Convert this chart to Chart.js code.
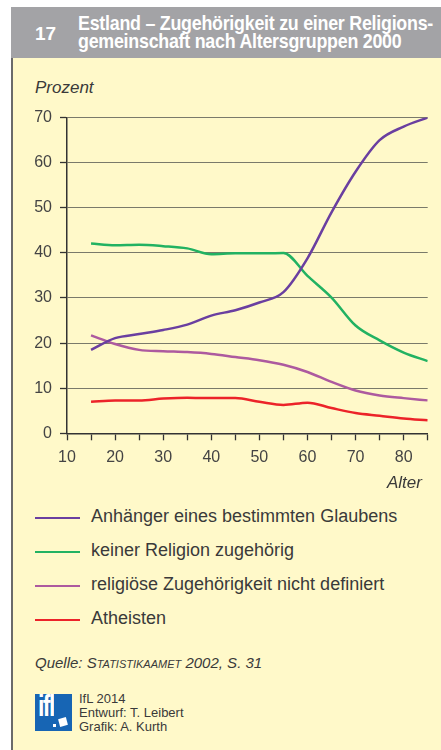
<!DOCTYPE html>
<html>
<head>
<meta charset="utf-8">
<script src="https://cdn.jsdelivr.net/npm/chart.js@4/dist/chart.umd.min.js"></script>
<style>
  body { margin: 0; width: 441px; height: 750px; background: #fff; position: relative; overflow: hidden;
         font-family: "Liberation Sans", Arial, sans-serif; color: #3a3a3a; }
  #head { position: absolute; left: 11px; top: 7px; width: 430px; height: 51px; background: #a3a3a6; }
  #num { position: absolute; left: 24px; top: 16px; color: #fff; font-weight: bold; font-size: 19px; }
  .tl { position: absolute; left: 67px; color: #fff; font-weight: bold; font-size: 21px; line-height: 21px;
        white-space: nowrap; transform-origin: 0 0; letter-spacing: -0.3px; }
  #panel { position: absolute; left: 11px; top: 58px; width: 430px; height: 692px; background: #fff9c9;
           border-left: 2px solid #6a6a6a; box-sizing: border-box; }
  #chartBox { position: absolute; left: 13px; top: 100px; }
  .axisTitle { position: absolute; font-style: italic; font-size: 17px; color: #3a3a3a; }
  #legend { position: absolute; left: 35px; top: 506px; }
  .row { position: relative; height: 34px; }
  .row .ln { position: absolute; left: 0; top: 11px; width: 45px; height: 2.2px; }
  .row .tx { position: absolute; left: 56px; top: 0px; font-size: 18px; white-space: nowrap; color: #3a3a3a; }
  #quelle { position: absolute; left: 35px; top: 654px; font-size: 15px; font-style: italic; color: #3a3a3a; }
  #quelle span { font-variant: small-caps; }
  #logo { position: absolute; left: 35px; top: 694px; width: 37px; height: 37px; background: #1765b4; overflow: hidden; }
  #logo .t { position: absolute; left: 3px; top: -4px; color: #fff; font-weight: bold; font-size: 29px;
             letter-spacing: -2px; transform: scaleX(0.8); transform-origin: 0 0; }
  #logo .sq { position: absolute; left: 24px; top: 24px; width: 8px; height: 8px; background: #fff; transform: rotate(-15deg); }
  #logo .dot { position: absolute; left: 18px; top: 30px; width: 3px; height: 3px; background: #fff; }
  #credits { position: absolute; left: 79px; top: 692px; font-size: 13px; line-height: 13.8px; color: #3a3a3a; }
</style>
</head>
<body>
<div id="head">
  <div id="num">17</div>
  <div class="tl" id="t1" style="top:5px;">Estland – Zugehörigkeit zu einer Religions-</div>
  <div class="tl" id="t2" style="top:23px;">gemeinschaft nach Altersgruppen 2000</div>
</div>
<div id="panel"></div>
<div class="axisTitle" style="left:35px; top:78px;">Prozent</div>
<div id="chartBox"><canvas id="myChart" width="428" height="400"></canvas></div>
<div class="axisTitle" style="left:387px; top:473px;">Alter</div>
<div id="legend"></div>
<div id="quelle">Quelle: <span>Statistikaamet</span> 2002, S. 31</div>
<div id="logo"><div class="t">ifl</div><div class="sq"></div><div class="dot"></div></div>
<div id="credits">IfL 2014<br>Entwurf: T. Leibert<br>Grafik: A. Kurth</div>

<script>
// data
const ages = [15, 20, 25, 30, 35, 40, 45, 50, 55, 60, 65, 70, 75, 80, 85];
const anhaenger = [18.5, 21.1, 22.0, 22.9, 24.1, 26.1, 27.3, 29.0, 31.3, 38.8, 49.0, 58.0, 65.0, 68.0, 70.0];
const keinerReligion = [42.1, 41.7, 41.8, 41.5, 41.0, 39.7, 39.9, 39.9, 40.0, 34.9, 30.1, 23.9, 20.6, 17.9, 16.0];
const nichtDefiniert = [21.7, 19.8, 18.5, 18.2, 18.0, 17.6, 16.9, 16.2, 15.2, 13.6, 11.4, 9.5, 8.4, 7.8, 7.3];
const atheisten = [7.0, 7.3, 7.3, 7.7, 7.9, 7.8, 7.8, 7.0, 6.3, 6.8, 5.6, 4.5, 3.9, 3.3, 2.9];

const seriesNames = ['Anhänger eines bestimmten Glaubens', 'keiner Religion zugehörig',
  'religiöse Zugehörigkeit nicht definiert', 'Atheisten'];
const seriesValues = [anhaenger, keinerReligion, nichtDefiniert, atheisten];
const seriesColors = ['#6a3fa0', '#22b262', '#ad5a9f', '#ec2329'];

// squeeze the title lines to the condensed width of the original
const t1 = document.getElementById('t1');
const t2 = document.getElementById('t2');
const k = 355 / t1.getBoundingClientRect().width;
t1.style.transform = 'scaleX(' + k + ')';
t2.style.transform = 'scaleX(' + k + ')';

Chart.defaults.font.family = '"Liberation Sans", Arial, sans-serif';
Chart.defaults.color = '#444';

const datasets = seriesNames.map((name, i) => ({
  label: name,
  data: ages.map((a, j) => ({ x: a, y: seriesValues[i][j] })),
  borderColor: seriesColors[i],
  borderWidth: 2.5,
  pointRadius: 0,
  fill: false,
  cubicInterpolationMode: 'monotone'
}));

const ctx = document.getElementById('myChart').getContext('2d');
const myChart = new Chart(ctx, {
  type: 'line',
  data: { datasets: datasets },
  options: {
    responsive: false,
    animation: false,
    devicePixelRatio: 1,
    layout: { padding: { top: 15.7, right: 13.3, left: 0, bottom: 0 } },
    plugins: { legend: { display: false }, tooltip: { enabled: false } },
    scales: {
      x: {
        type: 'linear', min: 10, max: 85,
        afterFit: (s) => { s.height = 66.7; },
        ticks: { stepSize: 5, autoSkip: false, maxRotation: 0, padding: 8, font: { size: 16 }, color: '#444',
                 callback: (v) => (v % 10 === 0 ? String(v) : '') },
        grid: { drawOnChartArea: false, drawTicks: true, tickLength: 7, tickColor: '#333', tickWidth: 1.3 },
        border: { color: '#333', width: 1.5 }
      },
      y: {
        min: 0, max: 70,
        afterFit: (s) => { s.width = 54; },
        ticks: { stepSize: 10, padding: 8, font: { size: 16 }, color: '#444' },
        grid: { color: (c) => (c.tick && c.tick.value === 0 ? 'rgba(0,0,0,0)' : '#7a7a6a'), lineWidth: 1,
                borderDash: [1, 2], tickBorderDash: [], tickLength: 7, tickColor: '#333', tickWidth: 1.3 },
        border: { color: '#333', width: 1.5 }
      }
    }
  }
});

// legend as html, built from the same series
const legend = document.getElementById('legend');
seriesNames.forEach((name, i) => {
  const row = document.createElement('div');
  row.className = 'row';
  row.innerHTML = '<div class="ln" style="background:' + seriesColors[i] + '"></div><div class="tx">' + name + '</div>';
  legend.appendChild(row);
});
</script>
</body>
</html>
